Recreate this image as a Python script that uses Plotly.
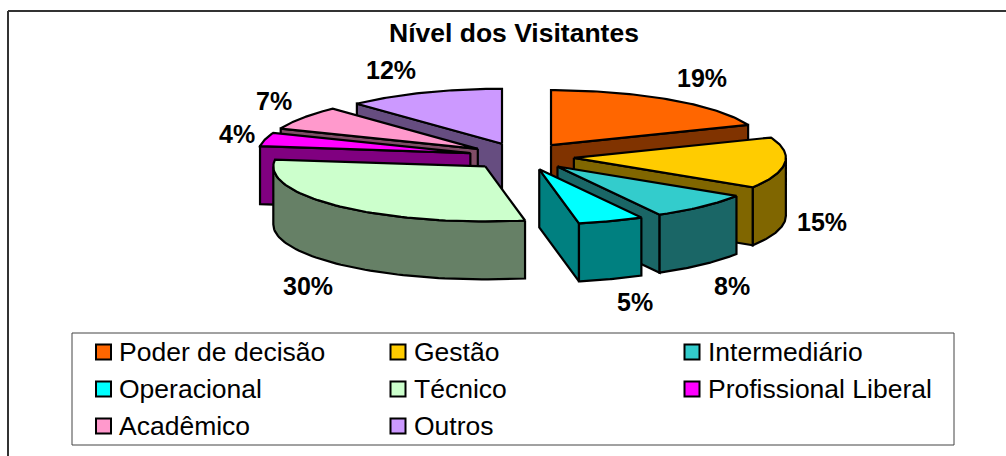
import math
import plotly.graph_objects as go

# --- data ---
title = "Nível dos Visitantes"
categories = ["Poder de decisão", "Gestão", "Intermediário", "Operacional",
              "Técnico", "Profissional Liberal", "Acadêmico", "Outros"]
values = [19, 15, 8, 5, 30, 4, 7, 12]

# --- styles ---
top_colors = ["#FF6600", "#FFCC00", "#33CCCC", "#00FFFF",
              "#CCFFCC", "#FF00FF", "#FF99CC", "#CC99FF"]
side_colors = ["#803300", "#806600", "#1A6666", "#008080",
               "#668066", "#800080", "#804D66", "#664D80"]
draw_order = [0, 7, 6, 5, 1, 2, 3, 4]

# --- layout (pixels on a page-sized pair of axes) ---
W, H = 1006, 456
cx, cy, rx, ry, depth, explode = 521.4, 156.5, 212, 55, 58, 52.7
label_xy = [(702, 78), (822, 222), (732, 286), (635, 302),
            (308, 286), (237, 134), (274, 101), (391, 70)]
legend_col_x = [103.5, 398, 692]
legend_row_y = [352, 389, 426]
legend_text_dx = 13.5

fig = go.Figure()


def poly(xs, ys, fill):
    fig.add_trace(go.Scatter(
        x=xs + xs[:1], y=ys + ys[:1], mode="lines", fill="toself",
        fillcolor=fill, line=dict(color="black", width=2.2),
        hoverinfo="skip", showlegend=False))


def pt(ax, ay, deg):
    t = math.radians(deg)
    return ax + rx * math.sin(t), ay - ry * math.cos(t)


def arc(ax, ay, a, b, n=60):
    pts = [pt(ax, ay, a + (b - a) * i / n) for i in range(n + 1)]
    return [p[0] for p in pts], [p[1] for p in pts]


total = sum(values)
spans = []
acc = 0
for v in values:
    spans.append((acc * 360 / total, (acc + v) * 360 / total))
    acc += v

for i in draw_order:
    a, b = spans[i]
    mid = math.radians((a + b) / 2)
    ax = cx + explode * math.sin(mid)
    ay = cy - explode * (ry / rx) * math.cos(mid)
    # radial walls that face the viewer
    if math.sin(math.radians(a)) < 0:
        ex, ey = pt(ax, ay, a)
        poly([ax, ex, ex, ax], [ay, ey, ey + depth, ay + depth], side_colors[i])
    if math.sin(math.radians(b)) > 0:
        ex, ey = pt(ax, ay, b)
        poly([ax, ex, ex, ax], [ay, ey, ey + depth, ay + depth], side_colors[i])
    # outer rim, front half only
    lo, hi = max(a, 90), min(b, 270)
    if lo < hi:
        xs, ys = arc(ax, ay, lo, hi)
        poly(xs + xs[::-1], ys + [y + depth for y in ys[::-1]], side_colors[i])
    # top face
    xs, ys = arc(ax, ay, a, b)
    poly([ax] + xs, [ay] + ys, top_colors[i])

annotations = [dict(x=514, y=33, text=f"<b>{title}</b>", showarrow=False,
                    xref="x", yref="y", font=dict(size=26.5))]
for v, (lx, ly) in zip(values, label_xy):
    annotations.append(dict(x=lx, y=ly, text=f"<b>{v}%</b>", showarrow=False,
                            xref="x", yref="y", font=dict(size=25)))

for i, name in enumerate(categories):
    mx = legend_col_x[i % 3]
    my = legend_row_y[i // 3]
    fig.add_trace(go.Scatter(
        x=[mx], y=[my], mode="markers", hoverinfo="skip", showlegend=False,
        marker=dict(symbol="square", size=15, color=top_colors[i],
                    line=dict(color="black", width=2))))
    annotations.append(dict(x=mx + legend_text_dx, y=my, text=name, showarrow=False,
                            xanchor="left", xref="x", yref="y", font=dict(size=26.5)))

shapes = [
    dict(type="line", xref="x", yref="y", x0=8, x1=W, y0=11, y1=11,
         line=dict(color="#333333", width=2)),
    dict(type="line", xref="x", yref="y", x0=8, x1=8, y0=11, y1=H,
         line=dict(color="#333333", width=2)),
    dict(type="rect", xref="x", yref="y", x0=72, x1=954, y0=333, y1=445,
         line=dict(color="#444444", width=1), layer="below"),
]

fig.update_layout(
    width=W, height=H, autosize=False,
    margin=dict(l=0, r=0, t=0, b=0),
    paper_bgcolor="white", plot_bgcolor="white",
    font=dict(family="Liberation Sans, Arial, sans-serif", color="black"),
    xaxis=dict(range=[0, W], visible=False, fixedrange=True),
    yaxis=dict(range=[H, 0], visible=False, fixedrange=True),
    showlegend=False, annotations=annotations, shapes=shapes,
)

fig.write_html("out.html", config={"displayModeBar": False},
               post_script="document.body.style.margin='0';document.body.style.overflow='hidden';")
